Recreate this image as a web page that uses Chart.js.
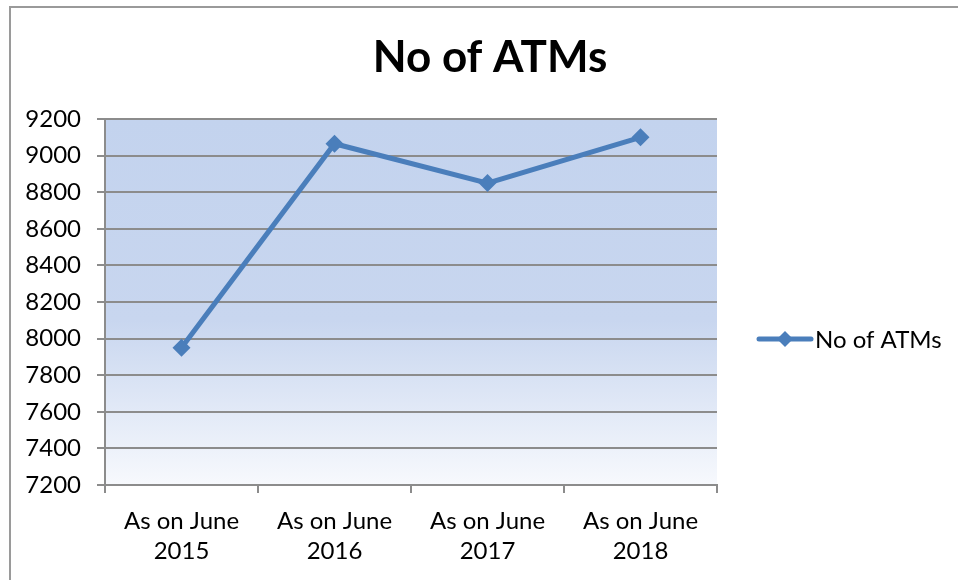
<!DOCTYPE html>
<html>
<head>
<meta charset="utf-8">
<title>No of ATMs</title>
<script src="https://cdn.jsdelivr.net/npm/chart.js@4/dist/chart.umd.min.js"></script>
<style>
  html, body { margin: 0; padding: 0; background: #ffffff; }
  #wrap { width: 958px; height: 580px; }
</style>
</head>
<body>
<div id="wrap"><canvas id="chart" width="958" height="580"></canvas></div>
<script>
// --- data ---
const CATEGORIES = [["As on June", "2015"], ["As on June", "2016"], ["As on June", "2017"], ["As on June", "2018"]];
const ATM_COUNTS = [7950, 9065, 8850, 9100];
const SERIES_NAME = "No of ATMs";
const CHART_TITLE = "No of ATMs";
const Y_MIN = 7200;
const Y_MAX = 9200;
const Y_STEP = 200;

const FONT = "Lato, 'Open Sans', sans-serif";
const LINE_COLOUR = "#4A7EBB";
const GRID_COLOUR = "#8C8C8C";

// --- plugins ---

// outer frame, plot gradient, title and legend
const decorPlugin = {
  id: "decor",
  beforeDraw: function (chart) {
    const ctx = chart.ctx;
    const a = chart.chartArea;
    ctx.save();
    ctx.fillStyle = "#ffffff";
    ctx.fillRect(0, 0, chart.width, chart.height);

    ctx.strokeStyle = "#9A9A9A";
    ctx.lineWidth = 2;
    ctx.strokeRect(10, 7, chart.width + 10, chart.height + 10);

    const g = ctx.createLinearGradient(0, a.top, 0, a.bottom);
    g.addColorStop(0, "#C3D3EE");
    g.addColorStop(0.55, "#C8D6EF");
    g.addColorStop(1, "#F7F9FD");
    ctx.fillStyle = g;
    ctx.fillRect(a.left, a.top, a.right - a.left, a.bottom - a.top);

    ctx.fillStyle = "#000000";
    ctx.font = "bold 44px " + FONT;
    ctx.textAlign = "center";
    ctx.textBaseline = "middle";
    ctx.fillText(CHART_TITLE, 490, 58);
    ctx.restore();
  },
  afterDraw: function (chart) {
    const ctx = chart.ctx;
    const y = 339;
    ctx.save();
    ctx.strokeStyle = LINE_COLOUR;
    ctx.lineWidth = 5;
    ctx.lineCap = "round";
    ctx.beginPath();
    ctx.moveTo(759, y);
    ctx.lineTo(811, y);
    ctx.stroke();
    ctx.fillStyle = LINE_COLOUR;
    ctx.beginPath();
    ctx.moveTo(785, y - 8);
    ctx.lineTo(793, y);
    ctx.lineTo(785, y + 8);
    ctx.lineTo(777, y);
    ctx.closePath();
    ctx.fill();
    ctx.fillStyle = "#000000";
    ctx.font = "24px " + FONT;
    ctx.textAlign = "left";
    ctx.textBaseline = "middle";
    ctx.fillText(chart.data.datasets[0].label, 815, y + 1);
    ctx.restore();
  }
};

// --- chart ---

new Chart(document.getElementById("chart"), {
  type: "line",
  data: {
    labels: CATEGORIES,
    datasets: [{
      label: SERIES_NAME,
      data: ATM_COUNTS,
      borderColor: LINE_COLOUR,
      backgroundColor: LINE_COLOUR,
      borderWidth: 5,
      pointStyle: "rectRot",
      pointRadius: 9,
      pointHoverRadius: 9,
      pointBorderWidth: 0,
      tension: 0
    }]
  },
  options: {
    responsive: false,
    animation: false,
    events: [],
    layout: { padding: { left: 0, top: 119, right: 241, bottom: 0 } },
    plugins: {
      legend: { display: false },
      title: { display: false },
      tooltip: { enabled: false }
    },
    scales: {
      x: {
        offset: true,
        afterFit: function (scale) { scale.height = 95; },
        grid: {
          offset: true,
          drawOnChartArea: false,
          drawTicks: true,
          tickLength: 8,
          color: GRID_COLOUR,
          lineWidth: 2
        },
        border: { color: GRID_COLOUR, width: 2 },
        ticks: {
          color: "#000000",
          font: { family: FONT, size: 24, lineHeight: 1.25 },
          padding: 13,
          maxRotation: 0,
          autoSkip: false
        }
      },
      y: {
        min: Y_MIN,
        max: Y_MAX,
        afterFit: function (scale) { scale.width = 105; },
        grid: {
          color: GRID_COLOUR,
          lineWidth: 2,
          drawTicks: true,
          tickLength: 8
        },
        border: { color: GRID_COLOUR, width: 2 },
        ticks: {
          stepSize: Y_STEP,
          color: "#000000",
          font: { family: FONT, size: 24 },
          padding: 16,
          callback: function (value) { return String(value); }
        }
      }
    }
  },
  plugins: [decorPlugin]
});
</script>
</body>
</html>
